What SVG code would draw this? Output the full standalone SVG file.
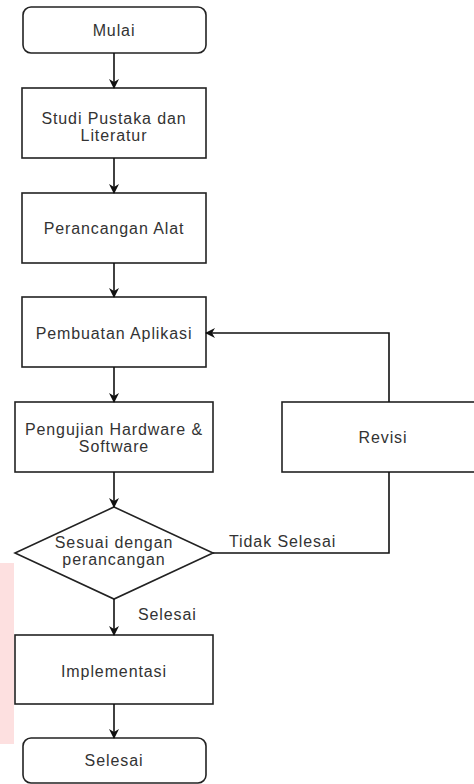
<svg xmlns="http://www.w3.org/2000/svg" width="474" height="784" viewBox="0 0 474 784">
<defs>
<marker id="arr" viewBox="0 0 10 10" refX="9" refY="5" markerWidth="10" markerHeight="10" markerUnits="userSpaceOnUse" orient="auto">
<path d="M0,0 L10,5 L0,10 L3,5 Z" fill="#111"/>
</marker>
<style>
.box{fill:#fff;stroke:#222;stroke-width:1.6}
.t{font-family:"Liberation Sans",Arial,sans-serif;font-size:16px;letter-spacing:0.9px;fill:#333;text-anchor:middle}
.lbl{font-family:"Liberation Sans",Arial,sans-serif;font-size:16px;letter-spacing:0.9px;fill:#333}
.e{fill:none;stroke:#111;stroke-width:1.6}
</style>
</defs>
<rect x="0" y="0" width="474" height="784" fill="#fff"/>
<rect x="0" y="563" width="14" height="181" fill="#fde0e0"/>
<g id="mulai"><rect class="box" x="23" y="7" width="183" height="46" rx="8"/><text class="t" x="114" y="36">Mulai</text></g>
<g id="studi"><rect class="box" x="22" y="88" width="184" height="70"/><text class="t" x="114" y="124">Studi Pustaka dan</text><text class="t" x="114" y="141">Literatur</text></g>
<g id="perancangan"><rect class="box" x="22" y="193" width="184" height="70"/><text class="t" x="114" y="234">Perancangan Alat</text></g>
<g id="pembuatan"><rect class="box" x="22" y="297" width="184" height="70"/><text class="t" x="114" y="339">Pembuatan Aplikasi</text></g>
<g id="pengujian"><rect class="box" x="15" y="402" width="198" height="70"/><text class="t" x="114" y="435">Pengujian Hardware &amp;</text><text class="t" x="114" y="452">Software</text></g>
<g id="revisi"><rect class="box" x="282" y="402" width="200" height="70"/><text class="t" x="383" y="443">Revisi</text></g>
<g id="sesuai"><polygon class="box" points="114,507 213,553 114,599 15,553"/><text class="t" x="114" y="548">Sesuai dengan</text><text class="t" x="114" y="565">perancangan</text></g>
<g id="implementasi"><rect class="box" x="15" y="635" width="198" height="69"/><text class="t" x="114" y="677">Implementasi</text></g>
<g id="selesai"><rect class="box" x="23" y="738" width="183" height="45" rx="8"/><text class="t" x="114" y="766">Selesai</text></g>
<g id="connectors">
<path class="e" d="M114,53 V88" marker-end="url(#arr)"/>
<path class="e" d="M114,158 V193" marker-end="url(#arr)"/>
<path class="e" d="M114,263 V297" marker-end="url(#arr)"/>
<path class="e" d="M114,367 V402" marker-end="url(#arr)"/>
<path class="e" d="M114,472 V507" marker-end="url(#arr)"/>
<path class="e" d="M114,599 V635" marker-end="url(#arr)"/>
<path class="e" d="M114,704 V738" marker-end="url(#arr)"/>
<path class="e" d="M213,553 H389 V472"/>
<path class="e" d="M389,402 V333 H206" marker-end="url(#arr)"/>
<text class="lbl" x="229" y="547">Tidak Selesai</text>
<text class="lbl" x="138" y="620">Selesai</text>
</g>
</svg>
